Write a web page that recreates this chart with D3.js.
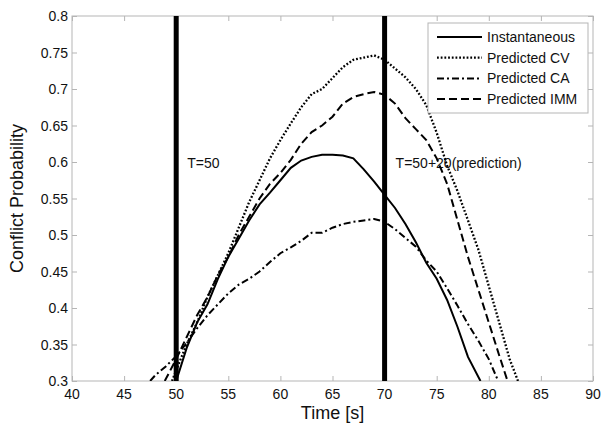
<!DOCTYPE html>
<html>
<head>
<meta charset="utf-8">
<script src="https://cdn.jsdelivr.net/npm/d3@7"></script>
<style>
  body { margin: 0; background: #fff; }
  text { font-family: "Liberation Sans", Arial, sans-serif; fill: #111; }
</style>
</head>
<body>
<div id="vis"></div>
<script>
var width = 608,
    height = 424;

// ---- data ----
var xTicks = [40, 45, 50, 55, 60, 65, 70, 75, 80, 85, 90];
var yTicks = [0.3, 0.35, 0.4, 0.45, 0.5, 0.55, 0.6, 0.65, 0.7, 0.75, 0.8];
var seriesNames = ["Instantaneous", "Predicted CV", "Predicted CA", "Predicted IMM"];

var instT = [50, 51, 52, 53, 54, 55, 56, 57, 58, 59, 60, 61, 62, 63, 64, 65, 66, 67, 68, 69, 70, 71, 72, 73, 74, 75, 76, 77, 78, 79.2];
var instV = [0.30, 0.345, 0.38, 0.405, 0.44, 0.47, 0.495, 0.52, 0.542, 0.558, 0.575, 0.592, 0.602, 0.607, 0.61, 0.61, 0.609, 0.605, 0.59, 0.573, 0.555, 0.537, 0.515, 0.49, 0.462, 0.44, 0.411, 0.374, 0.333, 0.30];

var cvT = [49.6, 50, 51, 52, 53, 54, 55, 56, 57, 58, 59, 60, 61, 62, 63, 64, 65, 66, 67, 68, 69, 70, 71, 72, 73, 74, 75, 76, 77, 78, 79, 80, 81, 82, 82.8];
var cvV = [0.30, 0.315, 0.35, 0.38, 0.415, 0.445, 0.475, 0.51, 0.545, 0.575, 0.605, 0.63, 0.653, 0.675, 0.693, 0.70, 0.715, 0.73, 0.74, 0.743, 0.746, 0.74, 0.728, 0.716, 0.70, 0.678, 0.64, 0.595, 0.56, 0.52, 0.48, 0.43, 0.38, 0.33, 0.30];

var caT = [47.5, 48, 49, 50, 51, 52, 53, 54, 55, 56, 57, 58, 59, 60, 61, 62, 63, 64, 65, 66, 67, 68, 69, 70, 71, 72, 73, 74, 75, 76, 77, 78, 79, 80, 80.9];
var caV = [0.30, 0.308, 0.32, 0.334, 0.352, 0.372, 0.39, 0.405, 0.42, 0.432, 0.44, 0.45, 0.463, 0.475, 0.483, 0.492, 0.503, 0.503, 0.51, 0.515, 0.518, 0.52, 0.522, 0.518, 0.508, 0.496, 0.484, 0.465, 0.45, 0.427, 0.403, 0.378, 0.355, 0.33, 0.30];

var immT = [48.9, 50, 51, 52, 53, 54, 55, 56, 57, 58, 59, 60, 61, 62, 63, 64, 65, 66, 67, 68, 69, 70, 71, 72, 73, 74, 75, 76, 77, 78, 79, 80, 81, 81.8];
var immV = [0.30, 0.33, 0.36, 0.39, 0.415, 0.445, 0.47, 0.50, 0.525, 0.55, 0.57, 0.585, 0.603, 0.625, 0.641, 0.65, 0.662, 0.68, 0.689, 0.693, 0.696, 0.692, 0.68, 0.66, 0.645, 0.63, 0.605, 0.57, 0.52, 0.47, 0.425, 0.38, 0.335, 0.30];

var markerLines = [50, 70];
var markerLabels = ["T=50", "T=50+20(prediction)"];

// ---- layout ----
var margin = {left: 72, top: 16, right: 15, bottom: 43};
var plotW = width - margin.left - margin.right,
    plotH = height - margin.top - margin.bottom;

var svg = d3.select("#vis").append("svg")
    .attr("width", width)
    .attr("height", height);

var g = svg.append("g")
    .attr("transform", "translate(" + margin.left + "," + margin.top + ")");

var x = d3.scaleLinear().domain([40, 90]).range([0, plotW]);
var y = d3.scaleLinear().domain([0.3, 0.8]).range([plotH, 0]);

g.append("clipPath").attr("id", "clip")
  .append("rect").attr("width", plotW).attr("height", plotH);

// box with inward ticks on all four sides
var boxColor = "#b5b5b5";
g.append("rect")
    .attr("width", plotW).attr("height", plotH)
    .attr("fill", "none").attr("stroke", boxColor).attr("stroke-width", 1);

function tickLines(axis) {
  axis.select(".domain").remove();
  axis.selectAll(".tick line").attr("stroke", boxColor);
  axis.selectAll(".tick text").remove();
}
g.append("g").attr("transform", "translate(0," + plotH + ")")
    .call(d3.axisTop(x).tickValues(xTicks).tickSize(5)).call(tickLines);
g.append("g")
    .call(d3.axisBottom(x).tickValues(xTicks).tickSize(5)).call(tickLines);
g.append("g")
    .call(d3.axisRight(y).tickValues(yTicks).tickSize(5)).call(tickLines);
g.append("g").attr("transform", "translate(" + plotW + ",0)")
    .call(d3.axisLeft(y).tickValues(yTicks).tickSize(5)).call(tickLines);

// tick labels
g.append("g").selectAll("text")
    .data(xTicks).enter().append("text")
    .attr("x", function(d) { return x(d); })
    .attr("y", plotH + 18)
    .attr("text-anchor", "middle")
    .attr("font-size", 14)
    .text(function(d) { return d; });

g.append("g").selectAll("text")
    .data(yTicks).enter().append("text")
    .attr("x", -4)
    .attr("y", function(d) { return y(d) + 5; })
    .attr("text-anchor", "end")
    .attr("font-size", 14)
    .text(function(d) { return d; });

// axis titles
svg.append("text")
    .attr("x", margin.left + plotW / 2)
    .attr("y", height - 5)
    .attr("text-anchor", "middle")
    .attr("font-size", 18)
    .text("Time [s]");

svg.append("text")
    .attr("transform", "translate(23," + (margin.top + plotH / 2) + ") rotate(-90)")
    .attr("text-anchor", "middle")
    .attr("font-size", 18)
    .text("Conflict Probability");

// thick vertical marker lines
g.selectAll(".marker")
    .data(markerLines).enter().append("line")
    .attr("class", "marker")
    .attr("x1", function(d) { return x(d); })
    .attr("x2", function(d) { return x(d); })
    .attr("y1", 0).attr("y2", plotH)
    .attr("stroke", "#000").attr("stroke-width", 5);

g.selectAll(".mlabel")
    .data(markerLabels).enter().append("text")
    .attr("class", "mlabel")
    .attr("x", function(d, i) { return x(markerLines[i]) + 11; })
    .attr("y", y(0.6) + 6)
    .attr("font-size", 14)
    .text(function(d) { return d; });

// curves
var styles = [
  {t: instT, v: instV, dash: null, w: 2},
  {t: cvT, v: cvV, dash: "1.8,1.9", w: 2.3},
  {t: caT, v: caV, dash: "7,3,2,3", w: 2},
  {t: immT, v: immV, dash: "8,4", w: 2}
];

var line = d3.line()
    .x(function(d) { return x(d[0]); })
    .y(function(d) { return y(d[1]); });

var curves = g.append("g").attr("clip-path", "url(#clip)");
styles.forEach(function(s) {
  var pts = s.t.map(function(t, i) { return [t, s.v[i]]; });
  curves.append("path")
      .datum(pts)
      .attr("d", line)
      .attr("fill", "none")
      .attr("stroke", "#000")
      .attr("stroke-width", s.w)
      .attr("stroke-dasharray", s.dash);
});

// legend
var leg = svg.append("g").attr("transform", "translate(428,23)");
leg.append("rect")
    .attr("width", 160).attr("height", 90)
    .attr("fill", "#fff").attr("stroke", boxColor);

seriesNames.forEach(function(name, i) {
  var yy = 14 + i * 20.7;
  leg.append("line")
      .attr("x1", 9).attr("x2", 54)
      .attr("y1", yy).attr("y2", yy)
      .attr("stroke", "#000").attr("stroke-width", styles[i].w)
      .attr("stroke-dasharray", styles[i].dash);
  leg.append("text")
      .attr("x", 59).attr("y", yy + 5)
      .attr("font-size", 14)
      .text(name);
});
</script>
</body>
</html>
